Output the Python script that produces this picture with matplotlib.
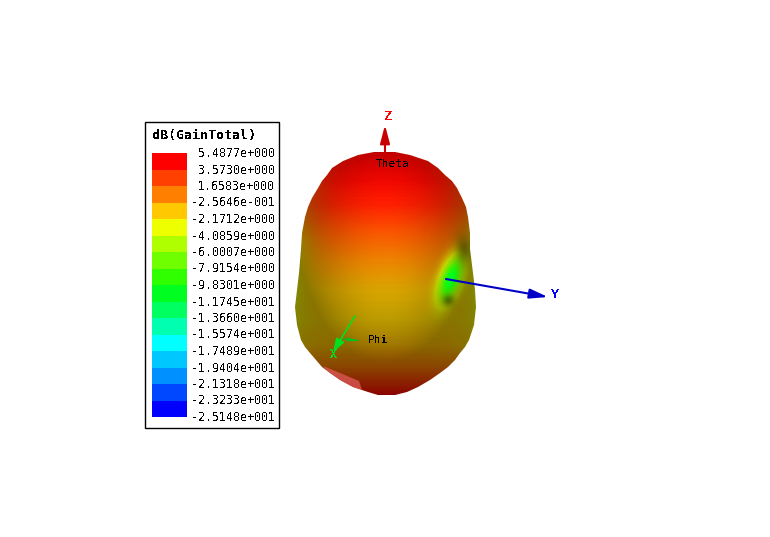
import numpy as np
import matplotlib as mpl
mpl.use('Agg')
import matplotlib.pyplot as plt
from matplotlib.colors import LinearSegmentedColormap
from matplotlib.patches import Polygon, Rectangle

mpl.rcParams['text.antialiased'] = False
mpl.rcParams['font.family'] = 'DejaVu Sans Mono'

legend_title = 'dB(GainTotal)'
legend_labels = ['5.4877e+000', '3.5730e+000', '1.6583e+000', '-2.5646e-001', '-2.1712e+000',
                 '-4.0859e+000', '-6.0007e+000', '-7.9154e+000', '-9.8301e+000', '-1.1745e+001',
                 '-1.3660e+001', '-1.5574e+001', '-1.7489e+001', '-1.9404e+001', '-2.1318e+001',
                 '-2.3233e+001', '-2.5148e+001']
legend_values = [float(s) for s in legend_labels]
band_colors = ['#ff0000', '#ff4000', '#ff8000', '#ffc800', '#eeff00', '#b0ff00', '#70ff00', '#30ff00',
               '#00ff20', '#00ff60', '#00ffb0', '#00ffff', '#00c8ff', '#0090ff', '#0048ff', '#0000ff']

outline_y = [152, 155, 161, 168, 175, 181, 188, 198, 207, 217, 233, 249, 273, 290, 307, 325,
             340, 347, 353, 360, 367, 373, 380, 387, 392, 395]
outline_l = [374, 358, 343, 332, 327, 322, 318, 312, 308, 305, 302, 301, 299, 297, 295, 297,
             301, 305, 310, 316, 322, 330, 340, 353, 368, 378]
outline_r = [395, 410, 428, 438, 445, 452, 457, 462, 466, 468, 470, 470, 473, 475, 476, 474,
             469, 465, 460, 455, 448, 440, 430, 418, 407, 395]

# gain down the centre of the body, pixels vs dB
profile_y = [152, 180, 205, 230, 260, 290, 320, 345, 365, 385, 395]
profile_g = [5.4, 5.2, 4.4, 2.8, 1.0, -0.5, -1.0, -0.4, 1.2, 3.8, 5.4]

# how strongly the gain falls towards the silhouette, by height
falloff_y = [165, 240, 300, 365]
falloff_w = [0.2, 1.0, 0.6, 0.0]

fig = plt.figure(figsize=(7.7, 5.37), dpi=100)
ax = fig.add_axes([0, 0, 1, 1])
ax.set_xlim(0, 770)
ax.set_ylim(537, 0)
ax.axis('off')

cmap = LinearSegmentedColormap.from_list('gain', band_colors[::-1])
vmin, vmax = legend_values[-1], legend_values[0]

# surface
X, Y = np.meshgrid(np.arange(285, 485) + 0.5, np.arange(145, 400) + 0.5)
left = np.interp(Y, outline_y, outline_l)
right = np.interp(Y, outline_y, outline_r)
u = (X - (left + right) / 2) / ((right - left) / 2 + 1e-6)
gain = np.interp(Y, profile_y, profile_g) - 3 * np.clip(np.abs(u), 0, 1.1) ** 6 * np.interp(Y, falloff_y, falloff_w)

# dent on the +Y side
s = ((X - 451) * 0.94 + (Y - 278) * 0.33) / 10
t = (-(X - 451) * 0.33 + (Y - 278) * 0.94) / 24
dent = np.exp(-(s ** 2 + t ** 2))
gain = gain - 11 * dent
rgb = cmap((gain - vmin) / (vmax - vmin))[..., :3]

ug = (X - 385) / 88
v = np.where(Y < 205, (Y - 205) / 70, (Y - 205) / 150)
shade = 1 - 0.42 * np.clip(ug ** 2 + v ** 2, 0, 1.1) ** 0.9
shade = shade + 0.35 * dent
# dark folds at the two ends of the dent
shade = shade - 0.28 * np.exp(-(((X - 463) / 8) ** 2 + ((Y - 250) / 14) ** 2))
shade = shade - 0.30 * np.exp(-(((X - 448) / 6) ** 2 + ((Y - 300) / 6) ** 2))
rgb = rgb * np.clip(shade, 0.2, 1)[..., None]

edge = np.r_[np.c_[outline_l, outline_y], np.c_[outline_r, outline_y][::-1]]
body = Polygon(edge, closed=True, transform=ax.transData, fc='none', ec='none')
ax.add_patch(body)
im = ax.imshow(rgb, extent=(285, 485, 400, 145), interpolation='nearest', aspect='auto', zorder=1)
im.set_clip_path(body)
ax.set_xlim(0, 770)
ax.set_ylim(537, 0)

# pale patch at the bottom left
patch = Polygon([(323, 366), (340, 373), (359, 381), (363, 393), (352, 390), (335, 380)],
                fc='#e05a5a', ec='none', alpha=0.75, zorder=2)
ax.add_patch(patch)
patch.set_clip_path(body)

# legend
ax.add_patch(Rectangle((145, 122), 134, 306, fc='white', ec='black', lw=1, zorder=3))
ax.text(152, 136, legend_title, fontsize=9.6, fontweight='bold', va='center', ha='left', zorder=4)
step = 16.5
for i, c in enumerate(band_colors):
    ax.add_patch(Rectangle((152, 153 + i * step), 35, step, fc=c, ec='none', zorder=4))
for i, lab in enumerate(legend_labels):
    ax.text(275, 153.5 + i * step, lab, fontsize=8.4, va='center', ha='right', zorder=4)


def axis_arrow(x0, y0, x1, y1, col, lw=1.5, length=1.1, width=0.29):
    style = '-|>,head_length=%g,head_width=%g' % (length, width)
    ax.annotate('', xy=(x1, y1), xytext=(x0, y0), zorder=6,
                arrowprops=dict(arrowstyle=style, color=col, lw=lw, shrinkA=0, shrinkB=0, mutation_scale=10))


axis_arrow(385, 163, 385, 125, '#c80000')
axis_arrow(446, 279, 548, 297, '#0000c8')
axis_arrow(355, 316, 333, 352, '#00e020', lw=1.2, length=0.8, width=0.28)
axis_arrow(343, 339, 362, 341, '#00c020', lw=0.7, length=0.8, width=0.1)

ax.text(388, 116, 'Z', color='#ff0000', fontsize=9.6, fontweight='bold', ha='center', va='center', zorder=7)
ax.text(555, 295, 'Y', color='#0000ff', fontsize=9.6, fontweight='bold', ha='center', va='center', zorder=7)
ax.text(333, 354, 'X', color='#00e020', fontsize=8.4, fontweight='bold', ha='center', va='center', zorder=7)
ax.text(376, 164, 'Theta', color='black', fontsize=8, ha='left', va='center', zorder=7)
ax.text(368, 340, 'Phi', color='black', fontsize=8, ha='left', va='center', zorder=7)

fig.savefig('out.png', dpi=100, facecolor='white')
